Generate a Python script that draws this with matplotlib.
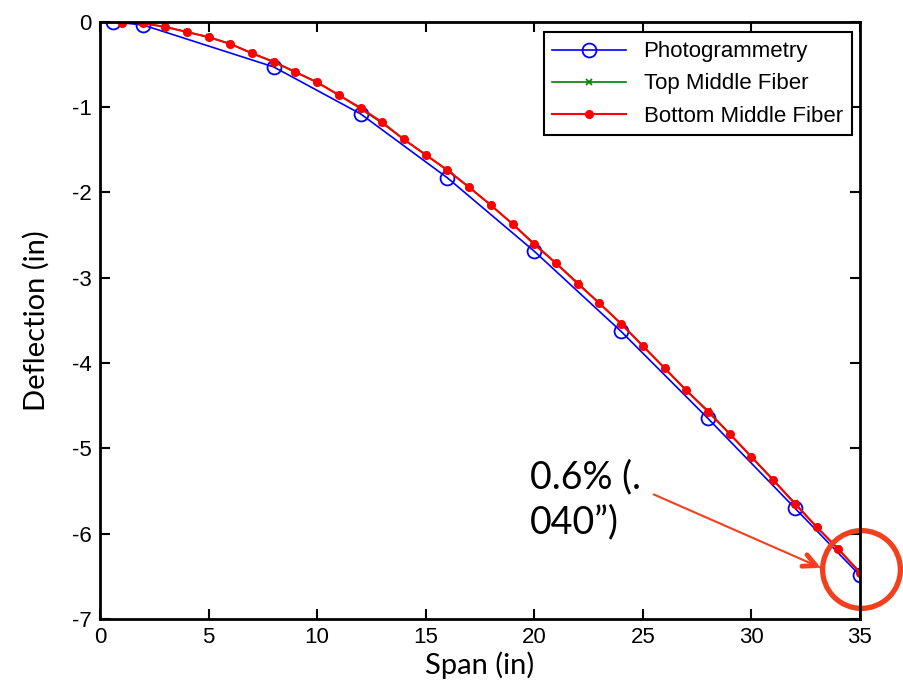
import numpy as np
import matplotlib.pyplot as plt

plt.rcParams['axes.unicode_minus'] = False

# photogrammetry targets
photo_x = [0.6, 2, 8, 12, 16, 20, 24, 28, 32, 35]
photo_y = [0.0, -0.04, -0.53, -1.08, -1.83, -2.69, -3.63, -4.65, -5.70, -6.49]

# fiber sensors, one reading per inch
fiber_x = list(range(1, 36))
top_y = [-0.01, -0.02, -0.06, -0.12, -0.18, -0.26, -0.37, -0.47, -0.59, -0.71,
         -0.86, -1.02, -1.19, -1.38, -1.56, -1.74, -1.94, -2.15, -2.37, -2.60,
         -2.83, -3.06, -3.30, -3.54, -3.80, -4.06, -4.32, -4.56, -4.83, -5.10,
         -5.37, -5.64, -5.92, -6.18, -6.45]
bottom_y = [-0.01, -0.02, -0.06, -0.12, -0.18, -0.26, -0.37, -0.47, -0.59, -0.71,
            -0.86, -1.01, -1.18, -1.38, -1.56, -1.74, -1.94, -2.15, -2.37, -2.61,
            -2.83, -3.07, -3.30, -3.54, -3.80, -4.06, -4.32, -4.57, -4.83, -5.10,
            -5.37, -5.65, -5.92, -6.18, -6.46]

tick_font = ['Liberation Sans Narrow', 'Liberation Sans', 'DejaVu Sans']
label_font = ['Lato', 'DejaVu Sans']
hl = '#f2401f'

fig = plt.figure(figsize=(9.04, 6.85), dpi=100)
ax = fig.add_axes([0.1106, 0.0964, 0.8407, 0.8719])

ax.plot(photo_x, photo_y, color='blue', marker='o', lw=1.2, ms=10, mfc='none',
        mew=1.3, label='Photogrammetry')
ax.plot(fiber_x, top_y, color=(0, 0.5, 0), marker='x', lw=1.2, ms=4, mew=1.2,
        label='Top Middle Fiber')
ax.plot(fiber_x, bottom_y, color='red', marker='.', lw=1.5, ms=11,
        label='Bottom Middle Fiber')

ax.set_xlim(0, 35)
ax.set_ylim(-7, 0)
ax.set_xticks(np.arange(0, 36, 5))
ax.set_yticks(np.arange(-7, 1, 1))
ax.tick_params(direction='in', length=7, width=1.5, top=True, right=True,
               labelsize=16, pad=6)
for lab in ax.get_xticklabels() + ax.get_yticklabels():
    lab.set_family(tick_font)
for s in ax.spines.values():
    s.set_linewidth(2)

ax.set_xlabel('Span (in)', fontsize=21, family=label_font, labelpad=2)
ax.set_ylabel('Deflection (in)', fontsize=21, family=label_font, labelpad=16)

leg = ax.legend(loc='upper right', bbox_to_anchor=(0.989, 0.982), borderaxespad=0,
                prop={'family': tick_font, 'size': 16}, fancybox=False,
                edgecolor='black', handlelength=3.3, borderpad=0.4,
                labelspacing=0.5, framealpha=1)
leg.get_frame().set_linewidth(1.5)

# highlight of the end point
ax.plot([35.05], [-6.42], 'o', ms=56, mfc='none', mec=hl, mew=3.8, clip_on=False)
ax.annotate('', xy=(33.2, -6.40), xytext=(25.5, -5.54),
            arrowprops=dict(arrowstyle='-', color=hl, lw=1.5, shrinkA=0, shrinkB=0))
ax.annotate('', xy=(33.2, -6.40), xytext=(32.8, -6.355),
            arrowprops=dict(arrowstyle='->, head_length=0.9, head_width=0.45',
                            color=hl, lw=3.5, shrinkA=0, shrinkB=0))
ax.text(19.8, -5.6, '0.6% (.\n040\u201d)', fontsize=27, family=label_font,
        va='center', ha='left', linespacing=1.3)

fig.savefig('out.png')
